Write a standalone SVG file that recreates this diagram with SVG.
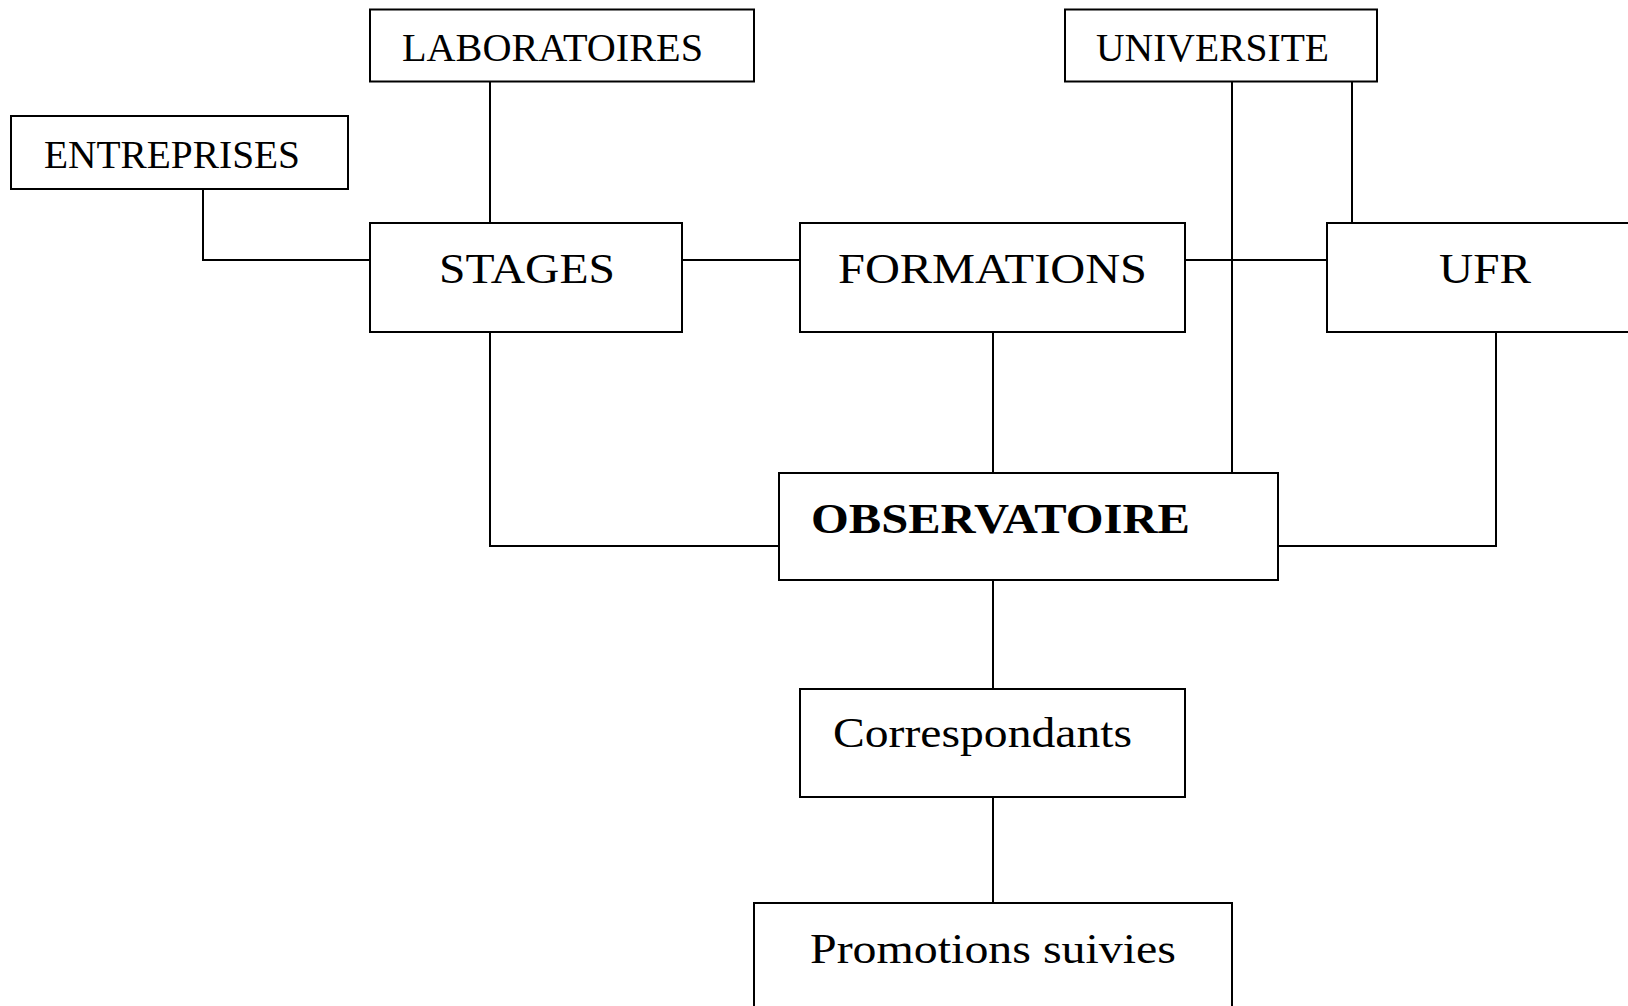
<svg xmlns="http://www.w3.org/2000/svg" width="1628" height="1006" viewBox="0 0 1628 1006">
<style>
.box{fill:#fff;stroke:#000;stroke-width:2}
.c{fill:none;stroke:#000;stroke-width:2}
.t{font-family:"Liberation Serif","Times New Roman",serif;fill:#000}
.s1{font-size:40px}
.s2{font-size:43px}
.b{font-weight:bold}
</style>
<rect width="1628" height="1006" fill="#fff"/>
<g id="connectors">
<path class="c" d="M203 189 V260 H370"/>
<path class="c" d="M490 81 V223"/>
<path class="c" d="M682 260 H800"/>
<path class="c" d="M1185 260 H1327"/>
<path class="c" d="M1232 81 V473"/>
<path class="c" d="M1352 81 V223"/>
<path class="c" d="M490 332 V546 H779"/>
<path class="c" d="M993 332 V473"/>
<path class="c" d="M1496 332 V546 H1278"/>
<path class="c" d="M993 580 V689"/>
<path class="c" d="M993 797 V903"/>
</g>
<g id="laboratoires">
<rect class="box" x="370" y="9.5" width="384" height="72"/>
<text class="t s1" x="402" y="61" textLength="301" lengthAdjust="spacingAndGlyphs">LABORATOIRES</text>
</g>
<g id="entreprises">
<rect class="box" x="11" y="116" width="337" height="73"/>
<text class="t s1" x="44" y="168" textLength="256" lengthAdjust="spacingAndGlyphs">ENTREPRISES</text>
</g>
<g id="universite">
<rect class="box" x="1065" y="9.5" width="312" height="72"/>
<text class="t s1" x="1096" y="61" textLength="233" lengthAdjust="spacingAndGlyphs">UNIVERSITE</text>
</g>
<g id="stages">
<rect class="box" x="370" y="223" width="312" height="109"/>
<text class="t s2" x="439" y="283" textLength="176" lengthAdjust="spacingAndGlyphs">STAGES</text>
</g>
<g id="formations">
<rect class="box" x="800" y="223" width="385" height="109"/>
<text class="t s2" x="838" y="283" textLength="309" lengthAdjust="spacingAndGlyphs">FORMATIONS</text>
</g>
<g id="ufr">
<rect class="box" x="1327" y="223" width="320" height="109"/>
<text class="t s2" x="1439" y="283" textLength="92" lengthAdjust="spacingAndGlyphs">UFR</text>
</g>
<g id="observatoire">
<rect class="box" x="779" y="473" width="499" height="107"/>
<text class="t s2 b" x="811" y="533" textLength="379" lengthAdjust="spacingAndGlyphs">OBSERVATOIRE</text>
</g>
<g id="correspondants">
<rect class="box" x="800" y="689" width="385" height="108"/>
<text class="t s2" x="833" y="747" textLength="299" lengthAdjust="spacingAndGlyphs">Correspondants</text>
</g>
<g id="promotions">
<rect class="box" x="754" y="903" width="478" height="120"/>
<text class="t s2" x="810" y="963" textLength="366" lengthAdjust="spacingAndGlyphs">Promotions suivies</text>
</g>
</svg>
